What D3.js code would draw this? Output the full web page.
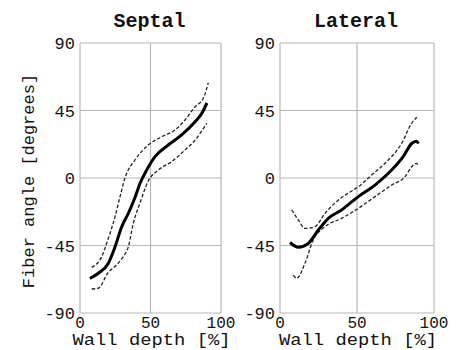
<!DOCTYPE html>
<html>
<head>
<meta charset="utf-8">
<script src="https://cdn.jsdelivr.net/npm/d3@7"></script>
<style>
  body { margin: 0; background: #fff; }
  text { font-family: "Liberation Mono", "DejaVu Sans Mono", monospace; fill: #111; }
</style>
</head>
<body>
<div id="chart"></div>
<script>
const W = 460, H = 350;

// wall depth [%], fiber angle [deg]
const septalMean = [[7,-67],[13,-63.5],[20,-57],[24.8,-46],[29.6,-32.5],[34.3,-23.5],[39,-13],[42.6,-3.5],[47.3,5.3],[53.2,14.2],[62.6,22],[72.1,28.7],[81.6,37.5],[86.3,43],[90,50]];
const septalUpper = [[8.3,-59.6],[15.4,-52.4],[20,-40.5],[24.8,-26],[28.5,-12],[31.9,0],[39,12],[48.4,22],[57.9,27.5],[67.4,32],[74.5,38.7],[81.6,47.5],[87.4,53],[91,63.5]];
const septalLower = [[8.3,-74],[13,-73.5],[20,-63],[24.8,-59],[30.7,-52.4],[34.3,-45.8],[37.8,-30.2],[42.8,-16],[48.4,-2],[55.5,5.3],[65,10.9],[74.5,18.7],[81.6,25.3],[89.9,36.5]];

const lateralMean = [[6.5,-43],[11.9,-46.2],[18.4,-43.6],[24.9,-34.7],[31.4,-26.9],[40,-21.3],[50.9,-12.4],[61.7,-4.7],[72.5,5.3],[80,14.2],[85.5,23],[88.5,24.5],[90,23]];
const lateralUpper = [[7.6,-21.3],[11.9,-28],[16.2,-33.6],[22.7,-32.4],[29.2,-23.6],[37.9,-14.7],[47.6,-8],[50.9,-5.8],[59.5,2],[68.2,9.8],[79,23.1],[85.5,36.5],[88.8,40.5]];
const lateralLower = [[8.7,-64.7],[10.8,-66.9],[16.2,-56.9],[21.6,-41.3],[29.2,-32.4],[40,-26.9],[50.9,-20.2],[61.7,-12.4],[72.5,-4.7],[81.2,0.9],[85.5,7.5],[88.8,9.8],[89.8,8]];

const xTicks = [0, 50, 100];
const yTicks = [-90, -45, 0, 45, 90];

const panels = [
  { title: "Septal", left: 80, right: 221, mean: septalMean, upper: septalUpper, lower: septalLower },
  { title: "Lateral", left: 280, right: 434, mean: lateralMean, upper: lateralUpper, lower: lateralLower }
];
const plotTop = 43, plotBottom = 313;

const svg = d3.select("#chart").append("svg")
  .attr("width", W)
  .attr("height", H);

const y = d3.scaleLinear().domain([-90, 90]).range([plotBottom, plotTop]);

panels.forEach(p => {
  const x = d3.scaleLinear().domain([0, 100]).range([p.left, p.right]);
  const g = svg.append("g");

  // grid + frame
  g.selectAll(".vgrid").data(xTicks).join("line")
    .attr("x1", d => x(d)).attr("x2", d => x(d))
    .attr("y1", plotTop).attr("y2", plotBottom)
    .attr("stroke", "#b8b8b8").attr("stroke-width", 1.2);
  g.selectAll(".hgrid").data(yTicks).join("line")
    .attr("x1", p.left).attr("x2", p.right)
    .attr("y1", d => y(d)).attr("y2", d => y(d))
    .attr("stroke", "#b8b8b8").attr("stroke-width", 1.2);

  // tick labels
  g.selectAll(".xt").data(xTicks).join("text")
    .attr("x", d => x(d)).attr("y", plotBottom + 15)
    .attr("text-anchor", "middle")
    .style("font-size", "16px")
    .text(d => d);
  g.selectAll(".yt").data(yTicks).join("text")
    .attr("x", p.left - 5).attr("y", d => y(d) + 6)
    .attr("text-anchor", "end")
    .style("font-size", "17px")
    .text(d => d);

  const line = d3.line()
    .x(d => x(d[0]))
    .y(d => y(d[1]))
    .curve(d3.curveMonotoneX);

  [p.upper, p.lower].forEach(s => {
    g.append("path").attr("d", line(s))
      .attr("fill", "none").attr("stroke", "#222")
      .attr("stroke-width", 1.3).attr("stroke-dasharray", "3.5,2");
  });
  g.append("path").attr("d", line(p.mean))
    .attr("fill", "none").attr("stroke", "#000")
    .attr("stroke-width", 3).attr("stroke-linejoin", "round");

  g.append("text")
    .attr("x", (p.left + p.right) / 2 - 1).attr("y", 27)
    .attr("text-anchor", "middle")
    .style("font-size", "20px").style("font-weight", "bold")
    .text(p.title);

  g.append("text")
    .attr("x", (p.left + p.right) / 2 + 1).attr("y", 345)
    .attr("text-anchor", "middle")
    .attr("textLength", 158).attr("lengthAdjust", "spacingAndGlyphs")
    .style("font-size", "16px")
    .text("Wall depth [%]");
});

svg.append("text")
  .attr("transform", "translate(34,181) rotate(-90)")
  .attr("text-anchor", "middle")
  .style("font-size", "17px")
  .text("Fiber angle [degrees]");
</script>
</body>
</html>
